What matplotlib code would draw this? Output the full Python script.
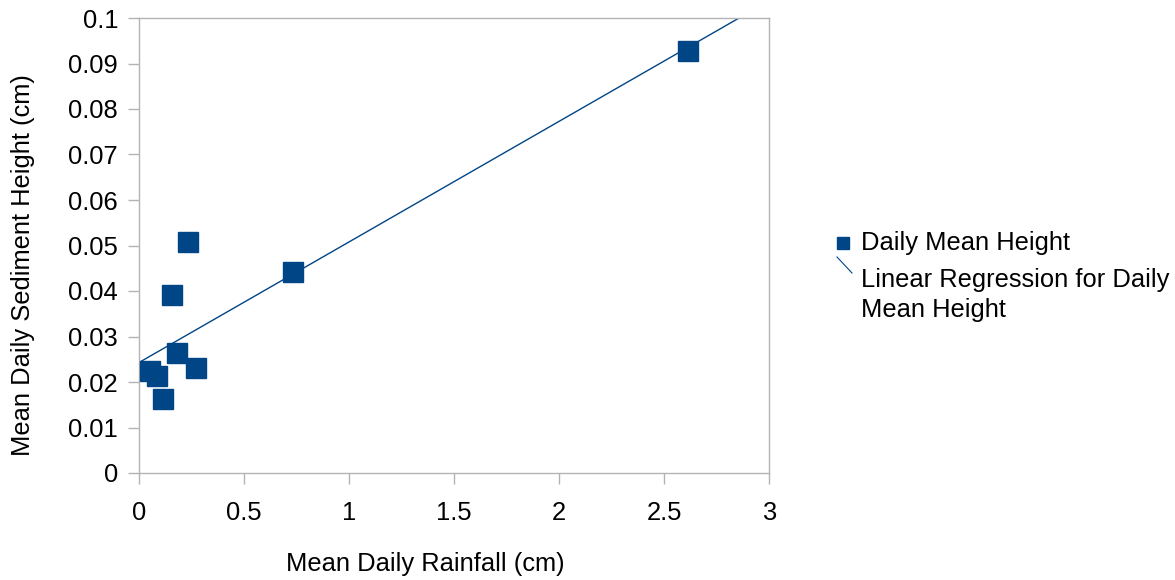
import numpy as np
import matplotlib
matplotlib.use("Agg")
import matplotlib.pyplot as plt
from matplotlib.lines import Line2D

plt.rcParams['font.family'] = ['Liberation Sans', 'DejaVu Sans']

# mean daily rainfall (cm) vs mean daily sediment height (cm)
rainfall = [0.052, 0.084, 0.113, 0.156, 0.179, 0.235, 0.270, 0.735, 2.613]
sediment = [0.0225, 0.0213, 0.0162, 0.0391, 0.0263, 0.0508, 0.0230, 0.0442, 0.0927]

xticks = [0, 0.5, 1, 1.5, 2, 2.5, 3]
yticks = [0, 0.01, 0.02, 0.03, 0.04, 0.05, 0.06, 0.07, 0.08, 0.09, 0.1]
series_name = "Daily Mean Height"
fit_name = "Linear Regression for Daily\nMean Height"

blue = "#004586"
grey = "#b3b3b3"
fs = 18.4
W, H = 1175, 580

fig = plt.figure(figsize=(W / 100, H / 100), dpi=100)
ax = fig.add_axes([139 / W, 1 - 473 / H, 630 / W, 455 / H])

ax.plot(rainfall, sediment, ls="none", marker="s", ms=14.5,
        color=blue, mec=blue, zorder=3)

# least squares fit through the points
slope, icpt = np.polyfit(rainfall, sediment, 1)
xx = np.array([0, 3])
ax.plot(xx, slope * xx + icpt, color=blue, lw=1.0, zorder=2)

ax.set_xlim(0, 3)
ax.set_ylim(0, 0.1)
ax.set_xticks(xticks)
ax.set_xticklabels([f"{t:g}" for t in xticks])
ax.set_yticks(yticks)
ax.set_yticklabels([f"{t:g}" for t in yticks])
for s in ax.spines.values():
    s.set_color(grey)
    s.set_linewidth(1.0)
ax.tick_params(axis="both", direction="out", length=7.9, color=grey,
               labelsize=fs, width=1.0)
ax.tick_params(axis="x", pad=12)
ax.tick_params(axis="y", pad=7.2)
ax.set_xlabel("Mean Daily Rainfall (cm)", fontsize=fs)
ax.set_ylabel("Mean Daily Sediment Height (cm)", fontsize=fs)
ax.xaxis.set_label_coords(0.454, -0.174)
ax.yaxis.set_label_coords(-0.165, 0.457)

# legend drawn by hand (LibreOffice style: diagonal stroke for the trend line)
def fx(px):
    return px / W

def fy(py):
    return 1 - py / H

fig.add_artist(Line2D([fx(843)], [fy(243)], ls="none", marker="s", ms=9,
                      color=blue, mec=blue, transform=fig.transFigure))
fig.text(fx(861), fy(243), series_name, fontsize=fs, va="center", ha="left")
fig.add_artist(Line2D([fx(837), fx(852)], [fy(257), fy(273)], color=blue,
                      lw=0.8, transform=fig.transFigure))
fig.text(fx(861), fy(295), fit_name, fontsize=fs, va="center", ha="left",
         linespacing=1.34)

fig.savefig("out.png", dpi=100)
